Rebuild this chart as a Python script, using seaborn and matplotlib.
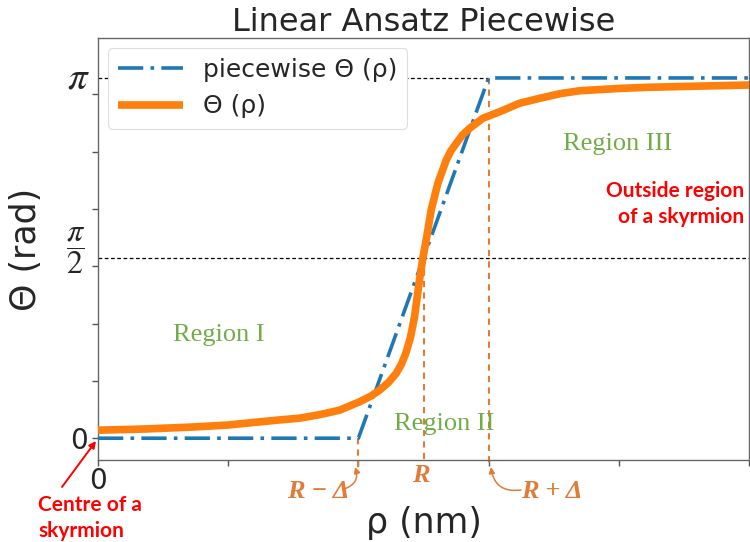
import numpy as np
import matplotlib
matplotlib.use("Agg")
import matplotlib.pyplot as plt
import matplotlib.transforms as mtransforms
import seaborn as sns
import pandas as pd

# ---- data ----
rho_piecewise = [0.0, 2.0, 3.0, 5.0]
theta_piecewise = [0.0, 0.0, np.pi, np.pi]

rho_profile = [0.00, 0.35, 0.70, 1.00, 1.22, 1.40, 1.55, 1.70, 1.854, 2.008, 2.10, 2.162,
               2.23, 2.290, 2.33, 2.367, 2.40, 2.431, 2.469, 2.495, 2.525, 2.559, 2.610,
               2.675, 2.71, 2.752, 2.80, 2.854, 2.956, 3.085, 3.238, 3.392, 3.55, 3.70,
               4.00, 4.22, 4.60, 5.00]
theta_profile = [0.07, 0.08, 0.096, 0.115, 0.14, 0.16, 0.175, 0.205, 0.244, 0.317, 0.37, 0.419,
                 0.485, 0.565, 0.645, 0.750, 0.88, 1.058, 1.379, 1.57, 1.757, 1.990, 2.222,
                 2.426, 2.505, 2.572, 2.645, 2.702, 2.790, 2.847, 2.921, 2.964, 3.005, 3.03,
                 3.05, 3.06, 3.07, 3.08]

x_ticks = [0, 1, 2, 3, 4, 5]
x_tick_labels = ['0', '', '', '', '', '']
y_ticks = [0, 0.5, 1.0, 1.5, 2.0, 2.5, 3.0]
y_tick_labels = ['0', '', '', '', '', '', '']

R_minus, R_mid, R_plus = 2.0, 2.5, 3.0
region_labels = ['Region I', 'Region II', 'Region III']

BLUE = '#1f77b4'
ORANGE = '#ff7f0e'
ANN_ORANGE = '#E07B39'
GREEN = '#70AD47'
RED = '#FF0000'

sns.set_theme(style='white')
plt.rcParams['font.family'] = ['DejaVu Sans']
plt.rcParams['mathtext.fontset'] = 'stix'

W, H = 750, 542
fig = plt.figure(figsize=(W / 100, H / 100), dpi=100)
ax = fig.add_axes([98 / W, 1 - 460 / H, (749 - 98) / W, (460 - 38) / H])

def fp(x, y):
    return (x / W, 1 - y / H)

df_pw = pd.DataFrame({'rho': rho_piecewise, 'theta': theta_piecewise})
df_pr = pd.DataFrame({'rho': rho_profile, 'theta': theta_profile})

sns.lineplot(data=df_pw, x='rho', y='theta', ax=ax, color=BLUE, lw=2.6,
             linestyle=(0, (7, 2, 1, 2)), label='piecewise \u0398 (\u03c1)', zorder=3)
sns.lineplot(data=df_pr, x='rho', y='theta', ax=ax, color=ORANGE, lw=5.5,
             label='\u0398 (\u03c1)', zorder=4, solid_capstyle='butt', solid_joinstyle='round')

ax.set_xlim(0, 5)
ax.set_ylim(-0.19, 3.49)

# reference dashed lines
ax.plot([0, R_plus], [np.pi, np.pi], color='black', lw=0.9, linestyle=(0, (3, 2)), zorder=1)
ax.plot([0, 5], [np.pi / 2, np.pi / 2], color='black', lw=0.9, linestyle=(0, (3, 2)), zorder=1)

# vertical orange dashed markers
ax.plot([R_minus, R_minus], [0, -0.27], color=ANN_ORANGE, lw=1.5, linestyle=(0, (3, 2.5)), clip_on=False, zorder=2)
ax.plot([R_mid, R_mid], [np.pi / 2, -0.21], color=ANN_ORANGE, lw=1.5, linestyle=(0, (3, 2.5)), clip_on=False, zorder=2)
ax.plot([R_plus, R_plus], [np.pi, -0.23], color=ANN_ORANGE, lw=1.5, linestyle=(0, (3, 2.5)), clip_on=False, zorder=2)

ax.set_xticks(x_ticks)
ax.set_xticklabels(x_tick_labels)
ax.set_yticks(y_ticks)
ax.set_yticklabels(y_tick_labels)
ax.tick_params(direction='out', length=4, width=1, color='#555555', labelsize=20, pad=3,
               bottom=True, left=True)
ax.tick_params(axis='x', pad=1)
for s in ax.spines.values():
    s.set_color('#666666')
    s.set_linewidth(1.0)

ax.set_title('Linear Ansatz Piecewise', fontsize=23, pad=5)
ax.set_xlabel('\u03c1 (nm)', fontsize=25, labelpad=8)
ax.set_ylabel('\u0398 (rad)', fontsize=25, labelpad=20)

# pi labels on y axis
trans = mtransforms.blended_transform_factory(ax.transAxes, ax.transData)
ax.text(-0.013, np.pi, r'$\pi$', transform=trans, ha='right', va='center', fontsize=28, clip_on=False)
ax.text(-0.02, np.pi / 2 + 0.07, r'$\dfrac{\pi}{2}$', transform=trans, ha='right', va='center', fontsize=23, clip_on=False)

leg = ax.legend(loc='upper left', fontsize=18, handlelength=2.6, frameon=True,
                borderaxespad=0.4, framealpha=1.0, edgecolor='#dddddd')
leg.get_frame().set_linewidth(0.8)

# region labels
rg = dict(color=GREEN, fontsize=19, family='Liberation Serif', ha='center', va='center')
ax.text(0.93, 0.90, region_labels[0], **rg)
ax.text(2.66, 0.12, region_labels[1], **rg)
ax.text(3.99, 2.57, region_labels[2], **rg)

# R labels
rfont = dict(color=ANN_ORANGE, family='Liberation Serif', fontweight='bold', fontstyle='italic', fontsize=19)
fig.text(*fp(318, 491), 'R \u2212 \u0394', ha='center', va='center', **rfont)
fig.text(*fp(421, 476), 'R', ha='center', va='center', **rfont)
fig.text(*fp(552, 492), 'R + \u0394', ha='center', va='center', **rfont)

ax.annotate('', xy=fp(355, 467), xycoords='figure fraction', xytext=fp(344, 489), textcoords='figure fraction',
            arrowprops=dict(arrowstyle='-|>', color=ANN_ORANGE, lw=1.1, connectionstyle='arc3,rad=0.5',
                            mutation_scale=9, shrinkA=0, shrinkB=0))
ax.annotate('', xy=fp(491, 467), xycoords='figure fraction', xytext=fp(521, 490), textcoords='figure fraction',
            arrowprops=dict(arrowstyle='-|>', color=ANN_ORANGE, lw=1.1, connectionstyle='arc3,rad=-0.5',
                            mutation_scale=9, shrinkA=0, shrinkB=0))

# red annotations
redfont = dict(color=RED, family=['Lato', 'DejaVu Sans'], fontweight='bold', fontsize=15)
fig.text(*fp(744, 204), 'Outside region\nof a skyrmion', ha='right', va='center', linespacing=1.4, **redfont)
fig.text(*fp(38, 518), 'Centre of a\nskyrmion', ha='left', va='center', linespacing=1.4, **redfont)
ax.annotate('', xy=fp(96, 441), xycoords='figure fraction', xytext=fp(62, 487), textcoords='figure fraction',
            arrowprops=dict(arrowstyle='-|>', color=RED, lw=1.4, mutation_scale=10, shrinkA=0, shrinkB=0))

fig.savefig('out.png', dpi=100)
